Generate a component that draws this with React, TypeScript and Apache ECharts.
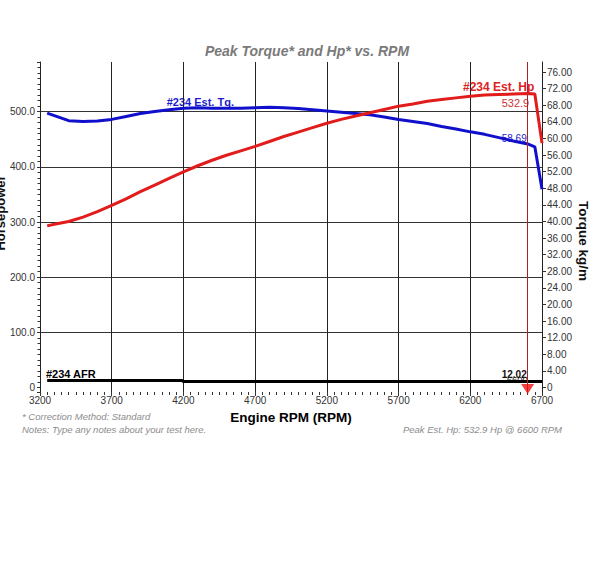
import React, { useEffect, useRef } from 'react';
import * as echarts from 'echarts';

// ---- data ----
const rpm = [3250, 3300, 3400, 3500, 3600, 3700, 3800, 3900, 4000, 4100, 4200, 4300, 4400, 4500, 4600, 4700, 4800, 4900, 5000, 5100, 5200, 5300, 5400, 5500, 5600, 5700, 5800, 5900, 6000, 6100, 6200, 6300, 6400, 6500, 6600, 6650, 6700];
const hp = [293, 296, 301, 309, 319, 330, 342, 355, 367, 379, 391, 402, 412, 421, 429, 437, 446, 455, 463, 471, 479, 486, 492, 498, 504, 510, 514, 519, 522, 525, 528, 530, 531, 532, 532.9, 532, 443];
const torque = [66.1, 65.5, 64.3, 64.1, 64.2, 64.6, 65.3, 66.0, 66.5, 66.9, 67.3, 67.4, 67.3, 67.3, 67.3, 67.4, 67.5, 67.4, 67.2, 66.9, 66.6, 66.3, 66.0, 65.7, 65.2, 64.6, 64.1, 63.6, 62.9, 62.3, 61.6, 61.0, 60.2, 59.4, 58.69, 58.0, 47.8];
const afrRpm = [3250, 4190, 4200, 6700];
const afr = [13.3, 13.3, 12.02, 12.02];
const hpTickLabels = [0, 100, 200, 300, 400, 500];
const tqTickLabels = [0, 4, 8, 12, 16, 20, 24, 28, 32, 36, 40, 44, 48, 52, 56, 60, 64, 68, 72, 76];
const peakRpm = 6600;
const peakHp = 532.9;
const tqAtPeak = 58.69;
const afrAtPeak = 12.02;

const FONT = '"Liberation Sans", Arial, sans-serif';

export default function App() {
  const ref = useRef<HTMLDivElement>(null);
  useEffect(() => {
    document.body.style.margin = '0';
    if (!ref.current) return;
    const chart = echarts.init(ref.current, undefined, { renderer: 'svg' });
    const pair = (xs: number[], ys: number[]) => xs.map((x, i) => [x, ys[i]]);
    const txt = (text: string, x: number, y: number, o: any = {}) => ({
      type: 'text',
      x,
      y,
      rotation: o.rotation || 0,
      style: {
        text,
        x: 0,
        y: 0,
        fill: o.fill || '#000',
        font: `${o.style || 'normal'} ${o.weight || 'normal'} ${o.size || 10}px ${FONT}`,
        align: o.align || 'left',
        verticalAlign: 'middle',
      },
      silent: true,
    });
    chart.setOption({
      animation: false,
      backgroundColor: '#fff',
      grid: { left: 40, right: 58, top: 62, bottom: 175, containLabel: false },
      xAxis: {
        type: 'value',
        min: 3200,
        max: 6700,
        interval: 500,
        axisLine: { show: false, onZero: false },
        axisTick: { show: true, length: 4, lineStyle: { color: '#333' } },
        minorTick: { show: true, splitNumber: 10, length: 3, lineStyle: { color: '#333' } },
        axisLabel: { color: '#333', fontSize: 10, fontFamily: FONT, margin: 3, formatter: (v: number) => String(v) },
        splitLine: { show: true, showMinLine: false, showMaxLine: false, lineStyle: { color: '#222', width: 1 } },
      },
      yAxis: [
        {
          type: 'value',
          min: -8,
          max: 590,
          splitNumber: 6,
          axisLine: { show: true, onZero: false, lineStyle: { color: '#222' } },
          axisTick: { show: true, length: 3, lineStyle: { color: '#333' } },
          minorTick: { show: true, splitNumber: 10, length: 2.5, lineStyle: { color: '#333' } },
          axisLabel: {
            color: '#333',
            fontSize: 10,
            fontFamily: FONT,
            margin: 5,
            customValues: hpTickLabels,
            formatter: (v: number) => (v === 0 ? '0' : v.toFixed(1)),
          },
          splitLine: {
            show: true,
            showMinLine: false,
            showMaxLine: false,
            lineStyle: { color: ['rgba(0,0,0,0)', '#333', '#333', '#333', '#333', '#333'], width: 1 },
          },
        },
        {
          type: 'value',
          position: 'right',
          min: -1.08,
          max: 78.43,
          axisLine: { show: true, onZero: false, lineStyle: { color: '#222' } },
          axisTick: { show: true, length: 4, customValues: tqTickLabels, lineStyle: { color: '#333' } },
          axisLabel: {
            color: '#333',
            fontSize: 10,
            fontFamily: FONT,
            margin: 5,
            customValues: tqTickLabels,
            formatter: (v: number) => (v === 0 ? '0' : v.toFixed(2)),
          },
          splitLine: { show: false },
        },
        { type: 'value', show: false, min: 0, max: 378 },
      ],
      series: [
        {
          name: 'AFR',
          type: 'line',
          yAxisIndex: 2,
          data: pair(afrRpm, afr),
          showSymbol: false,
          lineStyle: { color: '#000', width: 3 },
          silent: true,
          z: 3,
        },
        {
          name: 'Torque',
          type: 'line',
          yAxisIndex: 1,
          data: pair(rpm, torque),
          showSymbol: false,
          lineStyle: { color: '#1010cc', width: 3 },
          silent: true,
          z: 4,
        },
        {
          name: 'Hp',
          type: 'line',
          yAxisIndex: 0,
          data: pair(rpm, hp),
          showSymbol: false,
          lineStyle: { color: '#e21b1b', width: 3 },
          silent: true,
          z: 5,
          markLine: {
            silent: true,
            symbol: 'none',
            label: { show: false },
            lineStyle: { color: '#b02020', width: 1, type: 'solid' },
            data: [{ xAxis: peakRpm }],
          },
        },
        {
          name: 'Peak',
          type: 'scatter',
          yAxisIndex: 0,
          clip: false,
          data: [[peakRpm, 0]],
          symbol: 'triangle',
          symbolSize: [13, 10],
          symbolRotate: 180,
          symbolOffset: [0, 1.5],
          itemStyle: { color: '#ee1111' },
          silent: true,
          z: 6,
        },
      ],
      graphic: [
        txt('Peak Torque* and Hp* vs. RPM', 307, 50.5, { size: 14, weight: 'bold', style: 'italic', fill: '#7a7a7a', align: 'center' }),
        txt('Horsepower', 0, 213, { size: 13, weight: 'bold', fill: '#111', align: 'center', rotation: Math.PI / 2 }),
        txt('Torque kg/m', 583, 241, { size: 13.5, weight: 'bold', fill: '#111', align: 'center', rotation: -Math.PI / 2 }),
        txt('Engine RPM (RPM)', 291, 417, { size: 13.5, weight: 'bold', fill: '#000', align: 'center' }),
        txt('* Correction Method: Standard', 22, 416, { size: 9.5, style: 'italic', fill: '#8c8c8c' }),
        txt('Notes: Type any notes about your test here.', 22, 429.5, { size: 9.5, style: 'italic', fill: '#8c8c8c' }),
        txt(`Peak Est. Hp: ${peakHp} Hp @ ${peakRpm} RPM`, 562, 429, { size: 9.5, style: 'italic', fill: '#8c8c8c', align: 'right' }),
        txt('#234 Est. Tq.', 166.7, 102.3, { size: 11, weight: 'bold', fill: '#1c1ccc' }),
        txt(`${tqAtPeak}`, 501.7, 138, { size: 10, fill: '#2222cc' }),
        txt('#234 Est. Hp', 463, 87, { size: 12, weight: 'bold', fill: '#dd2222' }),
        txt(`${peakHp}`, 501.7, 102.5, { size: 11, fill: '#cc3333' }),
        txt('#234 AFR', 46, 373.5, { size: 11, weight: 'bold', fill: '#000' }),
        txt(`${afrAtPeak}`, 501.7, 374.5, { size: 10, weight: 'bold', fill: '#111' }),
        txt(`${peakRpm}`, 506.7, 379.5, { size: 9.5, fill: '#222' }),
      ],
    });
    return () => chart.dispose();
  }, []);
  return <div ref={ref} style={{ width: 600, height: 567 }} />;
}
